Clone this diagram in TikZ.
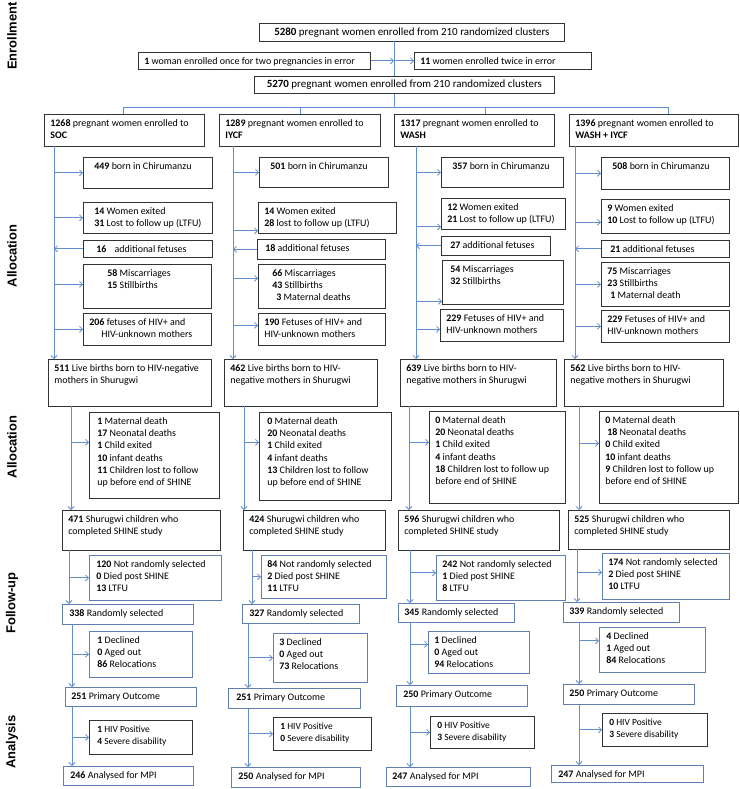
\documentclass[tikz,border=0pt]{standalone}
\usepackage{fontspec}
\setmainfont{Carlito}
\newfontfamily\stagefont{Liberation Sans}
\usetikzlibrary{arrows.meta}
\definecolor{linkblue}{RGB}{98,141,207}
\definecolor{boxblue}{RGB}{96,126,176}
\newcommand{\boxtext}[3]{\parbox[t][#2bp][t]{#1bp}{\strut#3}}

\begin{document}
\begin{tikzpicture}[x=1bp, y=-1bp, >={Straight Barb[length=3bp,width=6bp]},
    box/.style={draw=black!80, line width=0.7bp, anchor=north west, inner xsep=6bp, inner ysep=3.5bp, font=\fontsize{10}{12.3}\selectfont},
    bbox/.style={box, draw=boxblue},
    small/.style={font=\fontsize{9.5}{12}\selectfont},
    wide/.style={font=\fontsize{11}{13}\selectfont},
    link/.style={draw=linkblue, line width=0.8bp},
    stage/.style={rotate=90, font=\stagefont\bfseries\fontsize{13}{13}\selectfont}]
    \useasboundingbox (0,0) rectangle (740,789);

    % stages
    \node[stage] (enrol) at (12,36) {Enrollment};
    \node[stage] (alloc) at (12,256) {Allocation};
    \node[stage] (alloctwo) at (12,447) {Allocation};
    \node[stage] (follow) at (12,603) {Follow-up};
    \node[stage] (analysis) at (12,742) {Analysis};

    % enrollment
    \node[box, wide, inner sep=0pt, minimum width=305bp, minimum height=18bp] (e0) at (259,23) {\textbf{5280} pregnant women enrolled from 210 randomized clusters};
    \node[box] (ex1) at (138,52) {\boxtext{220}{10}{\textbf{1} woman enrolled once for two pregnancies in error}};
    \node[box] (ex2) at (414,52) {\boxtext{165}{10}{\textbf{11} women enrolled twice in error}};
    \node[box, wide, inner sep=0pt, minimum width=300bp, minimum height=17bp] (e1) at (254,76) {\textbf{5270} pregnant women enrolled from 210 randomized clusters};
    \coordinate (m) at (394,41);
    \draw[link] (m) -- (m |- e1.north);
    \draw[link,->] (ex1.east) -- (ex1.east -| m);
    \draw[link,->] (ex2.west -| m) -- (ex2.west);
    \coordinate (bus) at (394,107);
    \draw[link] (m |- e1.south) -- (bus);
    \coordinate (t1) at (123,107);
    \coordinate (t2) at (300,107);
    \coordinate (t3) at (485,107);
    \coordinate (t4) at (668,107);
    \draw[link] (t1) -- (t4);

    % arms
    \node[box] (c1) at (44,114) {\boxtext{148}{25}{\textbf{1268} pregnant women enrolled to\\ \textbf{SOC}}};
    \node[box] (c2) at (219,114) {\boxtext{149}{25}{\textbf{1289} pregnant women enrolled to\\ \textbf{IYCF}}};
    \node[box] (c3) at (394,114) {\boxtext{148}{25}{\textbf{1317} pregnant women enrolled to\\ \textbf{WASH}}};
    \node[box] (c4) at (569,114) {\boxtext{157}{25}{\textbf{1396} pregnant women enrolled to\\ \textbf{WASH + IYCF}}};
    \draw[link] (t1) -- (t1 |- c1.north);
    \draw[link] (t2) -- (t2 |- c2.north);
    \draw[link] (t3) -- (t3 |- c3.north);
    \draw[link] (t4) -- (t4 |- c4.north);

    % live births
    \node[box] (g1) at (48,359) {\boxtext{151}{40}{\textbf{511} Live births born to HIV-negative\\ mothers in Shurugwi}};
    \node[box] (g2) at (224,359) {\boxtext{141}{40}{\textbf{462} Live births born to HIV-\\ negative mothers in Shurugwi}};
    \node[box] (g3) at (400,359) {\boxtext{144}{40}{\textbf{639} Live births born to HIV-\\ negative mothers in Shurugwi}};
    \node[box] (g4) at (564,359) {\boxtext{147}{40}{\textbf{562} Live births born to HIV-\\ negative mothers in Shurugwi}};

    % allocation, SOC
    \node[box] (a1) at (83,157) {\boxtext{117}{24}{\hspace*{5bp}\textbf{449} born in Chirumanzu}};
    \node[box] (a2) at (83,202) {\boxtext{117}{24}{\hspace*{5bp}\textbf{14} Women exited\\ \hspace*{5bp}\textbf{31} Lost to follow up (LTFU)}};
    \node[box] (a3) at (83,240) {\boxtext{117}{10}{\hspace*{7bp}\textbf{16}\hspace{6bp} additional fetuses}};
    \node[box] (a4) at (83,264) {\boxtext{116}{37}{\hspace*{18bp}\textbf{58} Miscarriages\\ \hspace*{18bp}\textbf{15} Stillbirths}};
    \node[box] (a5) at (83,313) {\boxtext{116}{25}{\textbf{206} fetuses of HIV+ and\\ \hspace*{12bp}HIV-unknown mothers}};
    \coordinate (s1) at (54,146);
    \draw[link,->] (s1) -- (s1 |- g1.north);
    \draw[link,->] (s1 |- a1.west) -- (a1.west);
    \draw[link,->] (s1 |- a2.west) -- (a2.west);
    \draw[link,->] (a3.west) -- (a3.west -| s1);
    \draw[link,->] ([yshift=2bp]a4.west -| s1) -- ([yshift=2bp]a4.west);
    \draw[link,->] (s1 |- a5.west) -- (a5.west);

    % allocation, IYCF
    \node[box] (b1) at (259,157) {\boxtext{117}{23}{\hspace*{5bp}\textbf{501} born in Chirumanzu}};
    \node[box] (b2) at (258,202) {\boxtext{126}{24}{\textbf{14} Women exited\\ \textbf{28} lost to follow up (LTFU)}};
    \node[box] (b3) at (257,239) {\boxtext{116}{13}{\hspace*{2bp}\textbf{18} additional fetuses}};
    \node[box] (b4) at (258,264) {\boxtext{115}{37}{\hspace*{8bp}\textbf{66} Miscarriages\\ \hspace*{8bp}\textbf{43} Stillbirths\\ \hspace*{12bp}\textbf{3} Maternal deaths}};
    \node[box] (b5) at (258,313) {\boxtext{115}{25}{\textbf{190} Fetuses of HIV+ and\\ HIV-unknown mothers}};
    \coordinate (s2) at (233,146);
    \draw[link,->] (s2) -- (s2 |- g2.north);
    \draw[link,->] (s2 |- b1.west) -- (b1.west);
    \draw[link,->] ([yshift=-13bp]b2.west -| s2) -- ([yshift=-13bp]b2.west);
    \draw[link,->] (b3.west) -- (b3.west -| s2);
    \draw[link,->] ([yshift=8bp]b4.west -| s2) -- ([yshift=8bp]b4.west);
    \draw[link,->] ([yshift=4bp]b5.west -| s2) -- ([yshift=4bp]b5.west);

    % allocation, WASH
    \node[box] (d1) at (441,157) {\boxtext{110}{23}{\hspace*{5bp}\textbf{357} born in Chirumanzu}};
    \node[box] (d2) at (441,198) {\boxtext{112}{24}{\textbf{12} Women exited\\ \textbf{21} Lost to follow up (LTFU)}};
    \node[box] (d3) at (441,236) {\boxtext{97}{12}{\hspace*{3bp}\textbf{27} additional fetuses}};
    \node[box] (d4) at (442,260) {\boxtext{109}{37}{\hspace*{2bp}\textbf{54} Miscarriages\\ \hspace*{2bp}\textbf{32} Stillbirths}};
    \node[box] (d5) at (440,309) {\boxtext{111}{25}{\textbf{229} Fetuses of HIV+ and\\ HIV-unknown mothers}};
    \coordinate (s3) at (416,146);
    \draw[link,->] (s3) -- (s3 |- g3.north);
    \draw[link,->] (s3 |- d1.west) -- (d1.west);
    \draw[link,->] ([yshift=-13bp]d2.west -| s3) -- ([yshift=-13bp]d2.west);
    \draw[link,->] (d3.west) -- (d3.west -| s3);
    \draw[link,->] ([yshift=-19bp]d4.west -| s3) -- ([yshift=-19bp]d4.west);
    \draw[link,->] ([yshift=-4bp]d5.west -| s3) -- ([yshift=-4bp]d5.west);

    % allocation, WASH + IYCF
    \node[box] (f1) at (601,157) {\boxtext{116}{25}{\hspace*{5bp}\textbf{508} born in Chirumanzu}};
    \node[box] (f2) at (601,199) {\boxtext{116}{27}{\textbf{9} Women exited\\ \textbf{10} Lost to follow up (LTFU)}};
    \node[box] (f3) at (601,240) {\boxtext{116}{10}{\hspace*{3bp}\textbf{21} additional fetuses}};
    \node[box] (f4) at (601,262) {\boxtext{116}{37}{\textbf{75} Miscarriages\\ \textbf{23} Stillbirths\\ \hspace*{3bp}\textbf{1} Maternal death}};
    \node[box] (f5) at (601,310) {\boxtext{116}{25}{\textbf{229} Fetuses of HIV+ and\\ HIV-unknown mothers}};
    \coordinate (s4) at (575,146);
    \draw[link,->] (s4) -- (s4 |- g4.north);
    \draw[link,->] (s4 |- f1.west) -- (f1.west);
    \draw[link,->] ([yshift=-6bp]f2.west -| s4) -- ([yshift=-6bp]f2.west);
    \draw[link,->] (f3.west) -- (f3.west -| s4);
    \draw[link,->] (s4 |- f4.west) -- (f4.west);
    \draw[link,->] (s4 |- f5.west) -- (f5.west);

    % after birth
    \node[box] (h1) at (89,412) {\boxtext{118}{79}{\hspace*{2bp}\textbf{1} Maternal death\\ \hspace*{2bp}\textbf{17} Neonatal deaths\\ \hspace*{2bp}\textbf{1} Child exited\\ \hspace*{2bp}\textbf{10} infant deaths\\ \hspace*{2bp}\textbf{11} Children lost to follow\\ \hspace*{2bp}up before end of SHINE}};
    \node[box] (h2) at (259,412) {\boxtext{120}{81}{\hspace*{2bp}\textbf{0} Maternal death\\ \hspace*{2bp}\textbf{20} Neonatal deaths\\ \hspace*{2bp}\textbf{1} Child exited\\ \hspace*{2bp}\textbf{4} infant deaths\\ \hspace*{2bp}\textbf{13} Children lost to follow\\ \hspace*{2bp}up before end of SHINE}};
    \node[box] (h3) at (429,411) {\boxtext{124}{85}{\textbf{0} Maternal death\\ \textbf{20} Neonatal deaths\\ \textbf{1} Child exited\\ \textbf{4} infant deaths\\ \textbf{18} Children lost to follow up\\ before end of SHINE}};
    \node[box] (h4) at (599,411) {\boxtext{127}{85}{\textbf{0} Maternal death\\ \hspace*{2bp}\textbf{18} Neonatal deaths\\ \textbf{0} Child exited\\ \textbf{10} infant deaths\\ \textbf{9} Children lost to follow up\\ before end of SHINE}};

    \node[box] (i1) at (62,510) {\boxtext{146}{33}{\textbf{471} Shurugwi children who\\ completed SHINE study}};
    \node[box] (i2) at (243,510) {\boxtext{130}{33}{\textbf{424} Shurugwi children who\\ completed SHINE study}};
    \node[box] (i3) at (398,510) {\boxtext{149}{33}{\textbf{596} Shurugwi children who\\ completed SHINE study}};
    \node[box] (i4) at (568,510) {\boxtext{149}{32}{\textbf{525} Shurugwi children who\\ completed SHINE study}};

    \coordinate (u1) at (71,406);
    \coordinate (u2) at (244,406);
    \coordinate (u3) at (409,406);
    \coordinate (u4) at (579,406);
    \draw[link,->] (u1) -- (u1 |- i1.north);
    \draw[link,->] (u2) -- (u2 |- i2.north);
    \draw[link,->] (u3) -- (u3 |- i3.north);
    \draw[link,->] (u4) -- (u4 |- i4.north);
    \draw[link,->] ([yshift=13bp]h1.west -| u1) -- ([yshift=13bp]h1.west);
    \draw[link,->] ([yshift=14bp]h2.west -| u2) -- ([yshift=14bp]h2.west);
    \draw[link,->] ([yshift=15bp]h3.west -| u3) -- ([yshift=15bp]h3.west);
    \draw[link,->] ([yshift=14bp]h4.west -| u4) -- ([yshift=14bp]h4.west);

    % follow-up
    \node[bbox] (k1) at (89,555) {\boxtext{120}{38}{\hspace*{1bp}\textbf{120} Not randomly selected\\ \hspace*{1bp}\textbf{0} Died post SHINE\\ \hspace*{1bp}\textbf{13} LTFU}};
    \node[bbox] (k2) at (261,555) {\boxtext{113}{36}{\textbf{84} Not randomly selected\\ \textbf{2} Died post SHINE\\ \textbf{11} LTFU}};
    \node[bbox] (k3) at (436,555) {\boxtext{117}{38}{\textbf{242} Not randomly selected\\ \textbf{1} Died post SHINE\\ \textbf{8} LTFU}};
    \node[bbox] (k4) at (602,553) {\boxtext{115}{39}{\textbf{174} Not randomly selected\\ \textbf{2} Died post SHINE\\ \textbf{10} LTFU}};

    \node[bbox] (j1) at (62,604) {\boxtext{119}{13}{\hspace*{1bp}\textbf{338} Randomly selected}};
    \node[bbox] (j2) at (242,604) {\boxtext{105}{12}{\hspace*{1bp}\textbf{327} Randomly selected}};
    \node[bbox] (j3) at (398,603) {\boxtext{104}{12}{\textbf{345} Randomly selected}};
    \node[bbox] (j4) at (563,602) {\boxtext{104}{13}{\textbf{339} Randomly selected}};

    \coordinate (w1) at (69,550);
    \coordinate (w2) at (252,550);
    \coordinate (w3) at (410,550);
    \coordinate (w4) at (577,549);
    \draw[link,->] (w1) -- (w1 |- j1.north);
    \draw[link,->] (w2) -- (w2 |- j2.north);
    \draw[link,->] (w3) -- (w3 |- j3.north);
    \draw[link,->] (w4) -- (w4 |- j4.north);
    \draw[link,->] (w1 |- k1.west) -- (k1.west);
    \draw[link,->] (w2 |- k2.west) -- (k2.west);
    \draw[link,->] ([yshift=5bp]k3.west -| w3) -- ([yshift=5bp]k3.west);
    \draw[link,->] ([yshift=4bp]k4.west -| w4) -- ([yshift=4bp]k4.west);

    \node[bbox] (m1) at (89,631) {\boxtext{91}{39}{\hspace*{2bp}\textbf{1} Declined\\ \hspace*{2bp}\textbf{0} Aged out\\ \hspace*{2bp}\textbf{86} Relocations}};
    \node[bbox] (m2) at (273,633) {\boxtext{82}{42}{\textbf{3} Declined\\ \textbf{0} Aged out\\ \textbf{73} Relocations}};
    \node[bbox] (m3) at (428,631) {\boxtext{89}{35}{\textbf{1} Declined\\ \textbf{0} Aged out\\ \textbf{94} Relocations}};
    \node[bbox] (m4) at (599,627) {\boxtext{94}{38}{\hspace*{1bp}\textbf{4} Declined\\ \hspace*{1bp}\textbf{1} Aged out\\ \hspace*{1bp}\textbf{84} Relocations}};

    % analysis
    \node[bbox] (l1) at (65,687) {\boxtext{119}{12}{\textbf{251} Primary Outcome}};
    \node[bbox] (l2) at (228,688) {\boxtext{120}{13}{\hspace*{2bp}\textbf{251} Primary Outcome}};
    \node[bbox] (l3) at (396,685) {\boxtext{119}{14}{\hspace*{1bp}\textbf{250} Primary Outcome}};
    \node[bbox] (l4) at (563,684) {\boxtext{119}{13}{\textbf{250} Primary Outcome}};

    \node[box, small] (o1) at (89,720) {\boxtext{91}{27}{\hspace*{2bp}\textbf{1} HIV Positive\\ \hspace*{2bp}\textbf{4} Severe disability}};
    \node[box, small] (o2) at (273,717) {\boxtext{86}{26}{\hspace*{1bp}\textbf{1} HIV Positive\\ \hspace*{1bp}\textbf{0} Severe disability}};
    \node[box, small] (o3) at (430,716) {\boxtext{92}{25}{\hspace*{1bp}\textbf{0} HIV Positive\\ \hspace*{1bp}\textbf{3} Severe disability}};
    \node[box, small] (o4) at (602,713) {\boxtext{93}{26}{\hspace*{1bp}\textbf{0} HIV Positive\\ \hspace*{1bp}\textbf{3} Severe disability}};

    \node[bbox] (n1) at (63,766) {\boxtext{118}{12}{\hspace*{1bp}\textbf{246} Analysed for MPI}};
    \node[bbox] (n2) at (231,767) {\boxtext{117}{13}{\hspace*{1bp}\textbf{250} Analysed for MPI}};
    \node[bbox] (n3) at (386,767) {\boxtext{132}{12}{\textbf{247} Analysed for MPI}};
    \node[bbox] (n4) at (551,765) {\boxtext{140}{10}{\hspace*{1bp}\textbf{247} Analysed for MPI}};

    \coordinate (z1) at (72,624);
    \coordinate (z2) at (248,623);
    \coordinate (z3) at (410,622);
    \coordinate (z4) at (579,622);
    \draw[link,->] (z1) -- (z1 |- l1.north);
    \draw[link,->] (z2) -- (z2 |- l2.north);
    \draw[link,->] (z3) -- (z3 |- l3.north);
    \draw[link,->] (z4) -- (z4 |- l4.north);
    \draw[link,->] (z1 |- m1.west) -- (m1.west);
    \draw[link,->] (z2 |- m2.west) -- (m2.west);
    \draw[link,->] ([yshift=8bp]m3.west -| z3) -- ([yshift=8bp]m3.west);
    \draw[link,->] ([yshift=9bp]m4.west -| z4) -- ([yshift=9bp]m4.west);
    \draw[link,->] (z1 |- l1.south) -- (z1 |- n1.north);
    \draw[link,->] (z2 |- l2.south) -- (z2 |- n2.north);
    \draw[link,->] (z3 |- l3.south) -- (z3 |- n3.north);
    \draw[link,->] (z4 |- l4.south) -- (z4 |- n4.north);
    \draw[link,->] (z1 |- o1.west) -- (o1.west);
    \draw[link,->] (z2 |- o2.west) -- (o2.west);
    \draw[link,->] (z3 |- o3.west) -- (o3.west);
    \draw[link,->] (z4 |- o4.west) -- (o4.west);
\end{tikzpicture}
\end{document}
